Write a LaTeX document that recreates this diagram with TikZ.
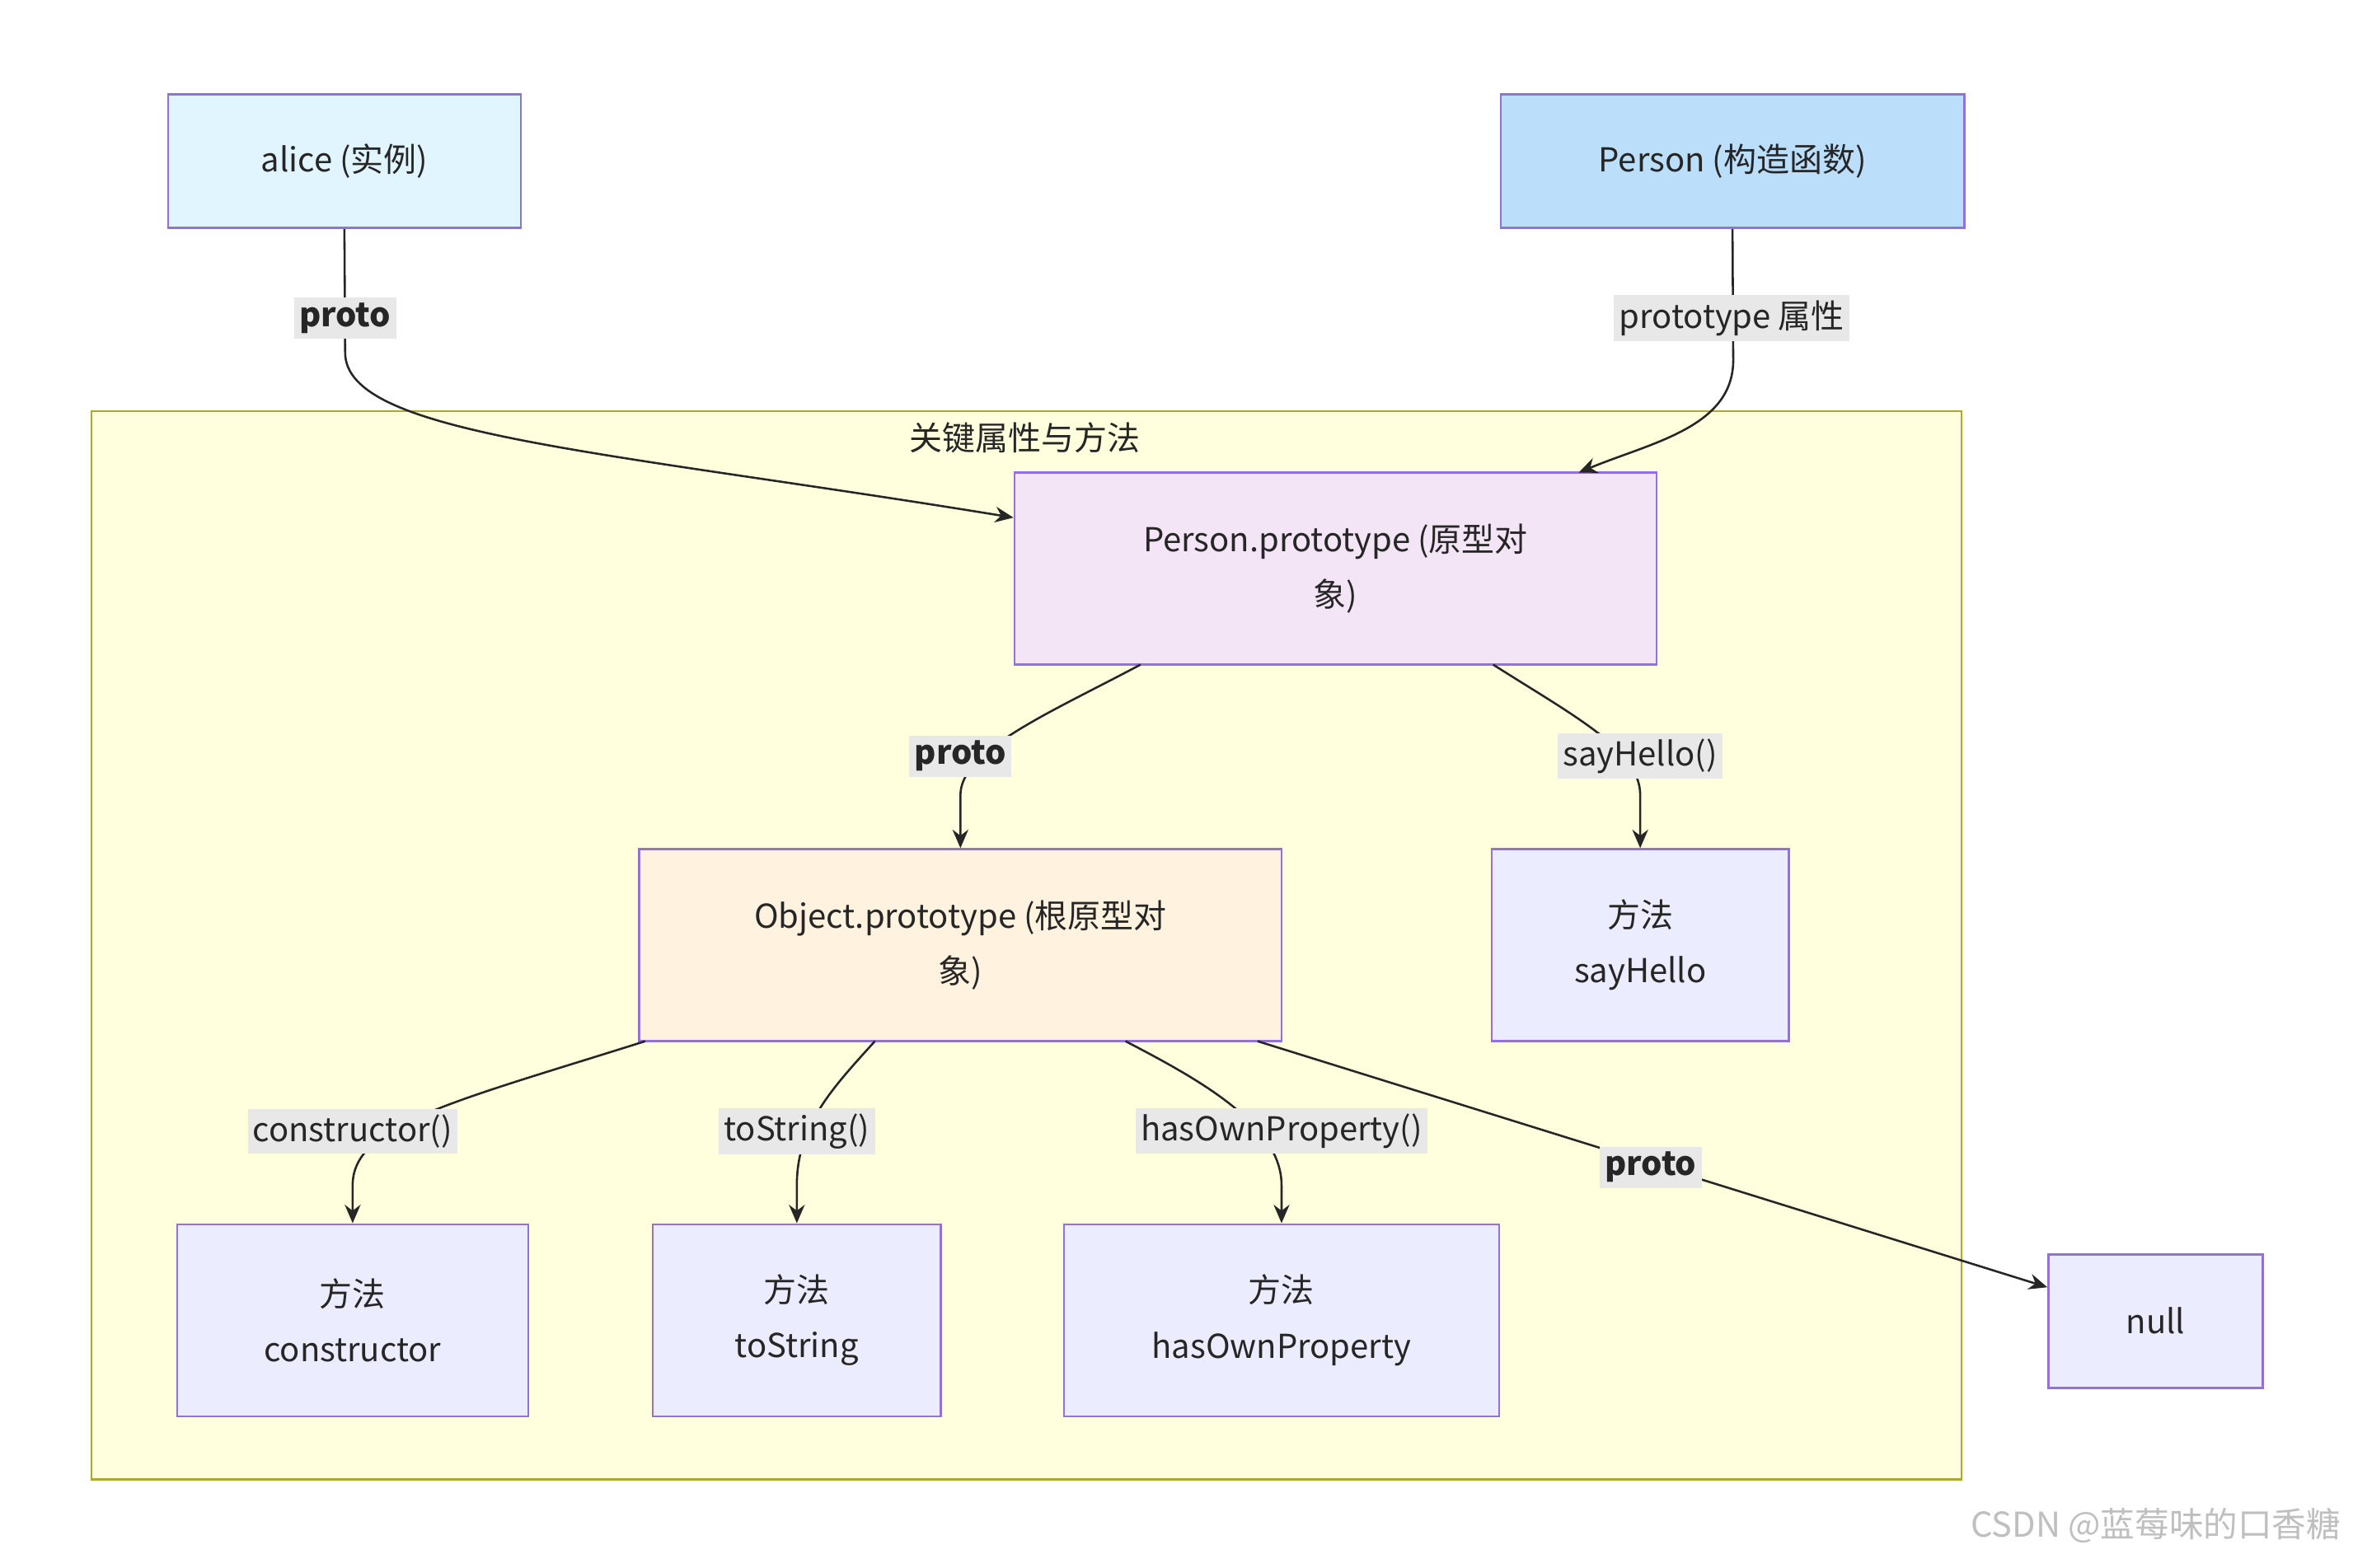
\documentclass[tikz,border=0pt]{standalone}
\usepackage{fontspec}
\setmainfont{Noto Sans CJK SC}
\usetikzlibrary{arrows.meta}
\definecolor{nodeline}{HTML}{9370DB}
\definecolor{boxfill}{HTML}{ECECFF}
\definecolor{clfill}{HTML}{FFFFDE}
\definecolor{clline}{HTML}{AAAA33}
\definecolor{lblfill}{HTML}{E8E8E8}
\definecolor{alicefill}{HTML}{E1F5FE}
\definecolor{personfill}{HTML}{BBDEFB}
\definecolor{ppfill}{HTML}{F3E5F5}
\definecolor{opfill}{HTML}{FFF3E0}
\begin{document}
\begin{tikzpicture}[x=0.02cm,y=-0.02cm,
  box/.style={draw=nodeline,line width=0.8pt,fill=boxfill,align=center,
    inner sep=0pt,font=\fontsize{12.5}{21}\selectfont,text=black!85},
  lbl/.style={fill=lblfill,inner sep=2pt,font=\fontsize{12.5}{15}\selectfont,text=black!85},
  edge/.style={line width=0.8pt,draw=black!85},
  arr/.style={edge,-{Stealth[length=7pt,width=6pt]}}]
\useasboundingbox (0,0) rectangle (1568,1045);
% cluster
\draw[draw=clline,fill=clfill,line width=0.8pt] (61,274) rectangle (1307,986);
\node[font=\fontsize{12.5}{15}\selectfont,text=black!85] (ctitle) at (683,292) {关键属性与方法};
% nodes
\node[box,fill=alicefill,minimum width=4.7cm,minimum height=1.78cm] (alice) at (229.5,107.5) {alice (实例)};
\node[box,fill=personfill,minimum width=6.18cm,minimum height=1.78cm] (person) at (1154.5,107.5) {Person (构造函数)};
\node[box,fill=ppfill,minimum width=8.56cm,minimum height=2.56cm] (pp) at (890,379) {Person.prototype (原型对\\象)};
\node[box,fill=opfill,minimum width=8.56cm,minimum height=2.56cm] (op) at (640,630) {Object.prototype (根原型对\\象)};
\node[box,minimum width=3.96cm,minimum height=2.56cm] (say) at (1093,630) {方法\\sayHello};
\node[box,minimum width=4.68cm,minimum height=2.56cm] (cons) at (235,880) {方法\\constructor};
\node[box,minimum width=3.84cm,minimum height=2.56cm] (tostr) at (531,880) {方法\\toString};
\node[box,minimum width=5.8cm,minimum height=2.56cm] (hop) at (854,880) {方法\\hasOwnProperty};
\node[box,minimum width=2.86cm,minimum height=1.78cm] (null) at (1436.5,880.5) {null};
% connectors
\draw[arr] (alice.south) -- (230,235) .. controls (230,290) and (400,300) .. (pp.west |- 0,345);
\draw[arr] (person.south) -- (1155,240) .. controls (1155,285) and (1100,295) .. (1052,315);
\draw[arr] (760,443) .. controls (700,475) and (640,500) .. (640,530) -- (op.north);
\draw[arr] (995,443) .. controls (1050,478) and (1093,500) .. (1093,530) -- (say.north);
\draw[arr] (430,694) .. controls (300,735) and (235,750) .. (235,790) -- (cons.north);
\draw[arr] (583,694) .. controls (555,725) and (531,750) .. (531,790) -- (tostr.north);
\draw[arr] (750,694) .. controls (800,720) and (854,750) .. (854,790) -- (hop.north);
\draw[arr] (838,694) -- (null.west |- 0,858);
% labels
\node[lbl,font=\fontsize{12.5}{15}\selectfont\bfseries] (l1) at (230,212) {proto};
\node[lbl] (l2) at (1154,212) {prototype 属性};
\node[lbl,font=\fontsize{12.5}{15}\selectfont\bfseries] (l3) at (640,504) {proto};
\node[lbl] (l4) at (1093,504) {sayHello()};
\node[lbl] (l5) at (235,754) {constructor()};
\node[lbl] (l6) at (531,754) {toString()};
\node[lbl] (l7) at (854,754) {hasOwnProperty()};
\node[lbl,font=\fontsize{12.5}{15}\selectfont\bfseries] (l8) at (1100,778) {proto};
% watermark
\node[anchor=east,text=black!25,font=\fontsize{13}{15}\selectfont] (wm) at (1566,1017) {CSDN @蓝莓味的口香糖};
\end{tikzpicture}
\end{document}
